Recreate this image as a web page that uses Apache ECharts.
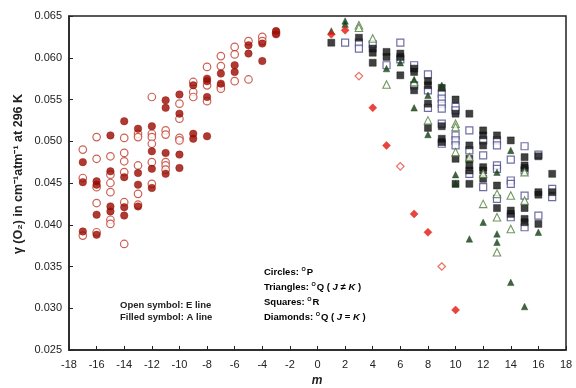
<!DOCTYPE html>
<html>
<head>
<meta charset="utf-8">
<script src="https://cdn.jsdelivr.net/npm/echarts@6/dist/echarts.min.js"></script>
<style>
  html, body { margin: 0; padding: 0; background: #fff; }
  #main { width: 576px; height: 388px; }
</style>
</head>
<body>
<div id="main"></div>
<script>
// [m, gamma] pairs
var filledCircles = [
    [-17, 0.0475], [-17, 0.0451], [-17, 0.0392],
    [-16, 0.0452], [-16, 0.0448], [-16, 0.0412], [-16, 0.0388],
    [-15, 0.0507], [-15, 0.0464], [-15, 0.0422], [-15, 0.0416],
    [-14, 0.0524], [-14, 0.0457], [-14, 0.0421], [-14, 0.0411],
    [-13, 0.0515], [-13, 0.0462], [-13, 0.0448], [-13, 0.0422],
    [-12, 0.0518], [-12, 0.0488], [-12, 0.0467], [-12, 0.0444],
    [-11, 0.0549], [-11, 0.0540], [-11, 0.0486], [-11, 0.0461],
    [-10, 0.0556], [-10, 0.0533], [-10, 0.0484], [-10, 0.0468],
    [-9, 0.0567], [-9, 0.0509], [-9, 0.0503],
    [-8, 0.0575], [-8, 0.0572], [-8, 0.0553], [-8, 0.0506],
    [-7, 0.0581], [-7, 0.0569],
    [-6, 0.0591], [-6, 0.0583],
    [-5, 0.0615], [-5, 0.0605],
    [-4, 0.0617], [-4, 0.0596],
    [-3, 0.0632], [-3, 0.0628]
];
var openCircles = [
    [-17, 0.0490], [-17, 0.0456], [-17, 0.0387],
    [-16, 0.0505], [-16, 0.0479], [-16, 0.0445], [-16, 0.0426], [-16, 0.0391],
    [-15, 0.0482], [-15, 0.0460], [-15, 0.0450], [-15, 0.0439], [-15, 0.0406], [-15, 0.0401],
    [-14, 0.0504], [-14, 0.0486], [-14, 0.0476], [-14, 0.0463], [-14, 0.0427], [-14, 0.0377],
    [-13, 0.0509], [-13, 0.0505], [-13, 0.0471], [-13, 0.0437], [-13, 0.0424],
    [-12, 0.0553], [-12, 0.0509], [-12, 0.0505], [-12, 0.0497], [-12, 0.0475], [-12, 0.0449],
    [-11, 0.0513], [-11, 0.0508], [-11, 0.0475], [-11, 0.0471], [-11, 0.0466],
    [-10, 0.0545], [-10, 0.0527], [-10, 0.0504], [-10, 0.0501],
    [-9, 0.0571], [-9, 0.0559], [-9, 0.0553],
    [-8, 0.0589], [-8, 0.0567], [-8, 0.0548],
    [-7, 0.0602], [-7, 0.0590], [-7, 0.0566], [-7, 0.0563],
    [-6, 0.0613], [-6, 0.0604], [-6, 0.0572],
    [-5, 0.0620], [-5, 0.0574],
    [-4, 0.0625], [-4, 0.0620],
    [-3, 0.0630]
];
var filledSquares = [
    [1, 0.0618], [3, 0.0624],
    [4, 0.0611], [4, 0.0606], [4, 0.0594],
    [5, 0.0607], [5, 0.0601],
    [6, 0.0605], [6, 0.0601], [6, 0.0579],
    [7, 0.0587], [7, 0.0583], [7, 0.0561],
    [8, 0.0572], [8, 0.0567], [8, 0.0545], [8, 0.0516],
    [9, 0.0564], [9, 0.0518], [9, 0.0503], [9, 0.0499],
    [10, 0.0550], [10, 0.0533], [10, 0.0479], [10, 0.0449],
    [11, 0.0533], [11, 0.0495], [11, 0.0479], [11, 0.0471], [11, 0.0465], [11, 0.0449],
    [12, 0.0513], [12, 0.0507], [12, 0.0495], [12, 0.0469], [12, 0.0465], [12, 0.0455],
    [13, 0.0507], [13, 0.0447], [13, 0.0420],
    [14, 0.0501], [14, 0.0417], [14, 0.0413],
    [15, 0.0481], [15, 0.0471], [15, 0.0468], [15, 0.0420], [15, 0.0407], [15, 0.0403],
    [16, 0.0482], [16, 0.0439], [16, 0.0436], [16, 0.0401],
    [17, 0.0461], [17, 0.0439]
];
var openSquares = [
    [2, 0.0618], [3, 0.0618], [3, 0.0611], [4, 0.0616], [5, 0.0591],
    [6, 0.0618], [6, 0.0598],
    [7, 0.0591], [7, 0.0567],
    [8, 0.0580], [8, 0.0561], [8, 0.0540],
    [9, 0.0557], [9, 0.0551], [9, 0.0545], [9, 0.0539], [9, 0.0521], [9, 0.0497],
    [10, 0.0541], [10, 0.0537], [10, 0.0507], [10, 0.0501], [10, 0.0495],
    [11, 0.0513], [11, 0.0489], [11, 0.0461],
    [12, 0.0501], [12, 0.0483], [12, 0.0445],
    [13, 0.0501], [13, 0.0495], [13, 0.0471], [13, 0.0467], [13, 0.0431],
    [14, 0.0478], [14, 0.0453], [14, 0.0449], [14, 0.0409],
    [15, 0.0494], [15, 0.0465], [15, 0.0435], [15, 0.0397],
    [16, 0.0484], [16, 0.0411],
    [17, 0.0443], [17, 0.0433]
];
var filledTriangles = [
    [1, 0.0632], [2, 0.0644], [2, 0.0640],
    [5, 0.0587], [6, 0.0594],
    [7, 0.0574], [7, 0.0540],
    [8, 0.0555], [8, 0.0508],
    [9, 0.0567],
    [10, 0.0460], [10, 0.0449],
    [11, 0.0383], [12, 0.0403],
    [13, 0.0463], [13, 0.0389], [13, 0.0379],
    [14, 0.0489], [14, 0.0331],
    [15, 0.0302], [16, 0.0391]
];
var openTriangles = [
    [3, 0.0639], [3, 0.0636], [4, 0.0623], [5, 0.0568], [7, 0.0571], [8, 0.0525],
    [10, 0.0521], [10, 0.0517], [10, 0.0487],
    [11, 0.0481],
    [12, 0.0461], [12, 0.0425],
    [13, 0.0437], [13, 0.0409], [13, 0.0367],
    [14, 0.0435], [14, 0.0395],
    [15, 0.0463], [15, 0.0429]
];
var filledDiamonds = [[1, 0.0628], [2, 0.0633], [4, 0.0540], [5, 0.0495], [7, 0.0413], [8, 0.0391], [10, 0.0298]];
var openDiamonds = [[3, 0.0578], [6, 0.0470], [9, 0.0350]];

var xTicks = [-18, 18, 2];
var yTicks = [0.025, 0.065, 0.005];

var FONT = 'Liberation Sans, Arial, sans-serif';
var txt = {fontFamily: FONT, fontWeight: 'bold', fontSize: 9.5, fill: '#222'};
var rich = {
    b: {fontFamily: FONT, fontWeight: 'bold', fontSize: 9.5, color: '#222', lineHeight: 12},
    i: {fontFamily: FONT, fontWeight: 'bold', fontStyle: 'italic', fontSize: 9.5, color: '#222', lineHeight: 12},
    s: {fontFamily: FONT, fontWeight: 'bold', fontSize: 5.5, color: '#222', lineHeight: 12, verticalAlign: 'top', padding: [0, 1, 7, 0]}
};

function sym(name, data, shape, size, fill, stroke, bw) {
    return {
        name: name,
        type: 'scatter',
        data: data,
        symbol: shape,
        symbolSize: size,
        itemStyle: {color: fill, borderColor: stroke, borderWidth: bw},
        emphasis: {disabled: true}
    };
}

var myChart = echarts.init(document.getElementById('main'));
var option = {
    backgroundColor: '#fff',
    animation: false,
    grid: {left: 69, right: 10, top: 16, bottom: 38, show: true, borderColor: '#222', borderWidth: 1.5},
    xAxis: {
        type: 'value',
        min: xTicks[0], max: xTicks[1], interval: xTicks[2],
        axisLine: {onZero: false, lineStyle: {color: '#222', width: 1.5}},
        axisTick: {inside: true, length: 4, lineStyle: {color: '#222'}},
        axisLabel: {color: '#222', fontSize: 11, fontFamily: FONT, margin: 9},
        splitLine: {show: false}
    },
    yAxis: {
        type: 'value',
        min: yTicks[0], max: yTicks[1], interval: yTicks[2],
        axisLine: {show: true, onZero: false, lineStyle: {color: '#222', width: 1.5}},
        axisTick: {show: true, inside: true, length: 4, lineStyle: {color: '#222'}},
        axisLabel: {
            color: '#222', fontSize: 11, fontFamily: FONT, margin: 7,
            formatter: function (v) { return v.toFixed(3); }
        },
        splitLine: {show: false}
    },
    graphic: [
        {type: 'text', left: 120, top: 300, style: Object.assign({text: 'Open symbol: E line'}, txt)},
        {type: 'text', left: 120, top: 312, style: Object.assign({text: 'Filled symbol: A line'}, txt)},
        {type: 'text', left: 264, top: 266, style: {text: '{b|Circles: }{s|O}{b|P}', rich: rich}},
        {type: 'text', left: 264, top: 281, style: {text: '{b|Triangles: }{s|O}{b|Q ( }{i|J}{b| \u2260 }{i|K}{b| )}', rich: rich}},
        {type: 'text', left: 264, top: 296, style: {text: '{b|Squares: }{s|O}{b|R}', rich: rich}},
        {type: 'text', left: 264, top: 311, style: {text: '{b|Diamonds: }{s|O}{b|Q ( }{i|J}{b| = }{i|K}{b| )}', rich: rich}},
        {type: 'text', x: 19, y: 174, rotation: Math.PI / 2,
            style: {text: '\u03b3 (O\u2082) in cm\u207b\u00b9atm\u207b\u00b9 at 296 K', fontFamily: FONT,
                fontWeight: 'bold', fontSize: 12.5, fill: '#222', align: 'center', verticalAlign: 'middle'}},
        {type: 'text', x: 317, y: 381, style: {text: 'm', fontFamily: FONT, fontWeight: 'bold',
            fontStyle: 'italic', fontSize: 12, fill: '#222', align: 'center', verticalAlign: 'middle'}}
    ],
    series: [
        sym('E circles', openCircles, 'circle', 7.5, '#fff', '#c0392b', 1.2),
        sym('A circles', filledCircles, 'circle', 7.5, '#980a00', '#980a00', 0.5),
        sym('E squares', openSquares, 'rect', 7, '#fff', '#4a4a8c', 1.2),
        sym('A squares', filledSquares, 'rect', 7, '#111', '#111', 0.5),
        sym('E triangles', openTriangles, 'triangle', 7.5, '#fff', '#4d7d3a', 1.1),
        sym('A triangles', filledTriangles, 'triangle', 6.5, '#123d12', '#123d12', 0.5),
        sym('E diamonds', openDiamonds, 'diamond', 7.5, '#fff', '#e84a3a', 1.2),
        sym('A diamonds', filledDiamonds, 'diamond', 8, '#e3150c', '#e3150c', 0.5)
    ]
};
myChart.setOption(option);
</script>
</body>
</html>
